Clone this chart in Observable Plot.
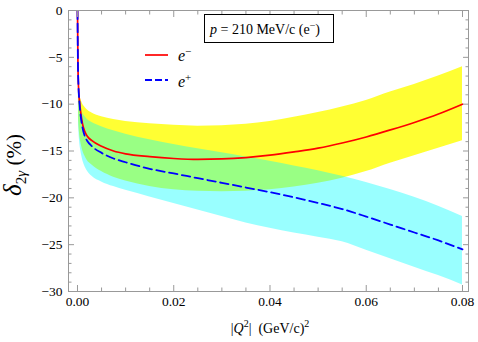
<!DOCTYPE html>
<html>
<head>
<meta charset="utf-8">
<script src="https://cdn.jsdelivr.net/npm/d3@7"></script>
<script src="https://cdn.jsdelivr.net/npm/@observablehq/plot@0.6"></script>
<style>
  html, body { margin: 0; padding: 0; background: #fff; }
  svg text { font-family: "Liberation Serif", "Times New Roman", "DejaVu Serif", serif; }
</style>
</head>
<body>
<div id="chart"></div>
<script>
// |Q^2| values (GeV/c)^2 for the central curves
const q = [0, 0.0001, 0.0002, 0.0004, 0.0007, 0.001, 0.0015, 0.002, 0.003, 0.005, 0.0075, 0.01, 0.015, 0.02, 0.025, 0.03, 0.035, 0.04, 0.045, 0.05, 0.055, 0.06, 0.065, 0.07, 0.075, 0.08];
// delta_2gamma (%) central curves
const eMinus = [0, -6, -8, -9.6, -11.0, -12.0, -12.9, -13.4, -13.9, -14.5, -15.0, -15.3, -15.6, -15.8, -15.9, -15.85, -15.7, -15.45, -15.1, -14.7, -14.15, -13.5, -12.75, -11.95, -11.05, -10.0];
const ePlus = [0, -6, -8, -9.8, -11.4, -12.4, -13.4, -13.9, -14.5, -15.2, -15.8, -16.2, -16.9, -17.4, -17.9, -18.4, -18.9, -19.4, -19.95, -20.55, -21.2, -22.0, -22.85, -23.7, -24.55, -25.5];
// uncertainty bands
const bandQ = [0.0002, 0.0004, 0.0007, 0.001, 0.0015, 0.002, 0.003, 0.005, 0.0075, 0.01, 0.015, 0.02, 0.025, 0.03, 0.035, 0.04, 0.045, 0.05, 0.055, 0.06, 0.065, 0.07, 0.075, 0.08];
const eMinusUpper = [-8.4, -9.0, -9.5, -9.9, -10.3, -10.6, -10.95, -11.35, -11.65, -11.85, -12.1, -12.25, -12.35, -12.3, -12.15, -11.85, -11.4, -10.9, -10.3, -9.6, -8.7, -7.9, -7.0, -6.0];
const eMinusLower = [-11.5, -13.0, -14.1, -14.8, -15.5, -16.0, -16.5, -17.2, -17.8, -18.2, -18.8, -19.15, -19.3, -19.35, -19.3, -19.15, -18.85, -18.45, -17.9, -17.2, -16.3, -15.5, -14.7, -13.9];
const ePlusUpper = [-8.6, -9.6, -10.4, -10.9, -11.3, -11.6, -11.95, -12.4, -12.85, -13.2, -13.8, -14.3, -14.75, -15.2, -15.65, -16.1, -16.6, -17.1, -17.7, -18.35, -19.1, -19.95, -20.9, -22.0];
const ePlusLower = [-12.2, -13.8, -15.0, -15.8, -16.6, -17.1, -17.7, -18.3, -18.8, -19.2, -19.9, -20.6, -21.3, -22.0, -22.7, -23.25, -23.75, -24.2, -24.7, -25.6, -26.5, -27.4, -28.3, -29.3];
// tick labels
const xTicks = [0, 0.02, 0.04, 0.06, 0.08];
const yTicks = [0, -5, -10, -15, -20, -25, -30];

const lines = q.map((v, i) => ({q: v, em: eMinus[i], ep: ePlus[i]}));
const bands = bandQ.map((v, i) => ({q: v, eu: eMinusUpper[i], el: eMinusLower[i], pu: ePlusUpper[i], pl: ePlusLower[i]}));

const xMinor = d3.range(0, 0.0801, 0.005).filter(v => !xTicks.some(t => Math.abs(t - v) < 1e-9));
const yMinor = d3.range(-30, 0.01, 1).filter(v => !yTicks.includes(v));
const frameColor = "#999";
const fmtY = d => d < 0 ? "\u2212" + (-d) : String(d);

const svg = Plot.plot({
  width: 478,
  height: 342,
  marginLeft: 68,
  marginRight: 10,
  marginTop: 10,
  marginBottom: 51,
  x: {domain: [-0.00187, 0.08125]},
  y: {domain: [-30, 0]},
  style: {fontFamily: "Liberation Serif", fontSize: "13px", background: "white", color: "black"},
  marks: [
    Plot.areaY(bands, {x: "q", y1: "el", y2: "eu", fill: "#ffff00", fillOpacity: 0.8, curve: "monotone-x"}),
    Plot.areaY(bands, {x: "q", y1: "pl", y2: "pu", fill: "#00ffff", fillOpacity: 0.4, curve: "monotone-x"}),
    Plot.lineY(lines, {x: "q", y: "em", stroke: "#ff0000", strokeWidth: 1.7, curve: "monotone-x", clip: true}),
    Plot.lineY(lines, {x: "q", y: "ep", stroke: "#0000ff", strokeWidth: 1.8, strokeDasharray: "8.5,4.5", curve: "monotone-x", clip: true}),
    Plot.frame({stroke: frameColor}),
    // labels
    Plot.axisX(xTicks, {anchor: "bottom", tickSize: 0, tickPadding: 5, tickFormat: d3.format(".2f"), label: null, fontSize: 13.5}),
    Plot.axisY(yTicks, {anchor: "left", tickSize: 0, tickPadding: 6, tickFormat: fmtY, label: null, fontSize: 13.5}),
    // inward ticks
    Plot.axisX(xTicks, {anchor: "bottom", tickSize: -6, fill: "none", stroke: frameColor, label: null}),
    Plot.axisX(xMinor, {anchor: "bottom", tickSize: -3.5, fill: "none", stroke: frameColor, label: null}),
    Plot.axisX(xTicks, {anchor: "top", tickSize: -6, fill: "none", stroke: frameColor, label: null}),
    Plot.axisX(xMinor, {anchor: "top", tickSize: -3.5, fill: "none", stroke: frameColor, label: null}),
    Plot.axisY(yTicks, {anchor: "left", tickSize: -6, fill: "none", stroke: frameColor, label: null}),
    Plot.axisY(yMinor, {anchor: "left", tickSize: -3.5, fill: "none", stroke: frameColor, label: null}),
    Plot.axisY(yTicks, {anchor: "right", tickSize: -6, fill: "none", stroke: frameColor, label: null}),
    Plot.axisY(yMinor, {anchor: "right", tickSize: -3.5, fill: "none", stroke: frameColor, label: null})
  ]
});

document.getElementById("chart").appendChild(svg);

const s = d3.select(svg);
const font = "Liberation Serif, DejaVu Serif, serif";

// y-axis title
const yt = s.append("text")
  .attr("transform", "translate(21,165) rotate(-90)")
  .attr("text-anchor", "middle")
  .attr("font-family", font)
  .attr("fill", "black")
  .style("white-space", "pre");
yt.append("tspan").attr("font-size", 25).attr("font-style", "italic").text("δ");
yt.append("tspan").attr("font-size", 15).attr("dy", 5).text("2");
yt.append("tspan").attr("font-size", 15).attr("font-style", "italic").text("γ");
yt.append("tspan").attr("font-size", 21).attr("dy", -5).text(" (%)");

// x-axis title
const xt = s.append("text")
  .attr("x", 270).attr("y", 333)
  .attr("text-anchor", "middle")
  .attr("font-family", font)
  .attr("font-size", 14)
  .attr("fill", "black")
  .style("white-space", "pre");
xt.append("tspan").text("|");
xt.append("tspan").attr("font-style", "italic").text("Q");
xt.append("tspan").attr("font-size", 10).attr("dy", -6).text("2");
xt.append("tspan").attr("dy", 6).text("|  (GeV/c)");
xt.append("tspan").attr("font-size", 10).attr("dy", -6).text("2");

// legend
const lg = s.append("g").attr("font-family", font).attr("fill", "black").attr("text-anchor", "start");
lg.append("line").attr("x1", 145).attr("x2", 168).attr("y1", 55).attr("y2", 55)
  .attr("stroke", "#ff0000").attr("stroke-width", 1.7);
lg.append("line").attr("x1", 145).attr("x2", 168).attr("y1", 80).attr("y2", 80)
  .attr("stroke", "#0000ff").attr("stroke-width", 1.8).attr("stroke-dasharray", "7,3");
const l1 = lg.append("text").attr("x", 178).attr("y", 61).attr("font-size", 16);
l1.append("tspan").attr("font-style", "italic").text("e");
l1.append("tspan").attr("font-size", 11).attr("dy", -6).text("\u2212");
const l2 = lg.append("text").attr("x", 178).attr("y", 87).attr("font-size", 16);
l2.append("tspan").attr("font-style", "italic").text("e");
l2.append("tspan").attr("font-size", 11).attr("dy", -6).text("+");

// annotation box
const bx = s.append("g").attr("font-family", font).attr("text-anchor", "start");
bx.append("rect").attr("x", 204.5).attr("y", 14.5).attr("width", 129).attr("height", 28)
  .attr("fill", "white").attr("stroke", "black").attr("stroke-width", 1);
const bt = bx.append("text").attr("x", 210).attr("y", 34).attr("font-size", 14).attr("fill", "black").style("white-space", "pre");
bt.append("tspan").attr("font-style", "italic").text("p");
bt.append("tspan").text(" = 210 MeV/c (e");
bt.append("tspan").attr("font-size", 10).attr("dy", -5).text("\u2212");
bt.append("tspan").attr("dy", 5).text(")");
</script>
</body>
</html>
